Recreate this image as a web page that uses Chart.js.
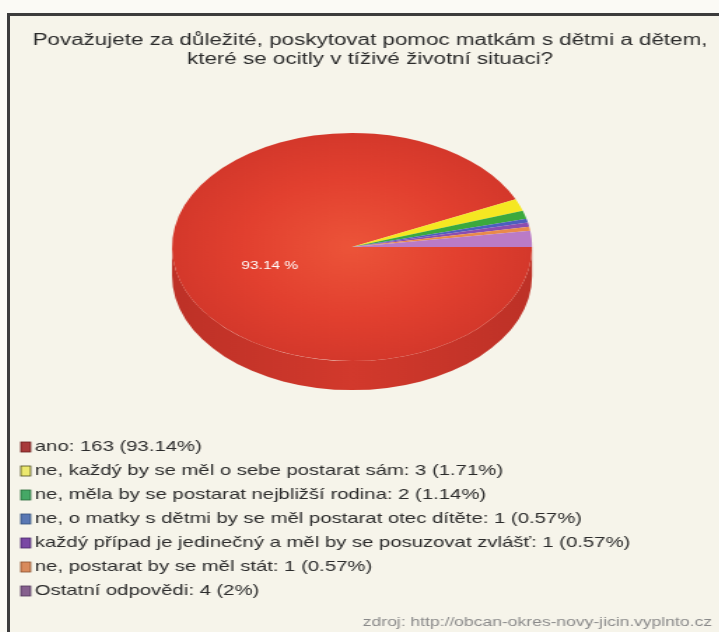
<!DOCTYPE html>
<html lang="cs">
<head>
<meta charset="UTF-8">
<title>Anketa</title>
<script src="https://cdn.jsdelivr.net/npm/chart.js"></script>
<style>
  html, body { margin: 0; padding: 0; width: 719px; height: 632px; overflow: hidden; background: #fbfaf5; }
  #ramecek { position: absolute; left: 7px; top: 13px; width: 800px; height: 700px;
             border-left: 3px solid #3c3c3c; border-top: 3px solid #3c3c3c; background: #f6f4ea; }
  /* graf je kreslen užší a roztažen do šířky */
  #obal { position: absolute; left: 11px; top: 16px; width: 508px; height: 616px;
          transform: scaleX(1.4); transform-origin: 0 0; }
</style>
</head>
<body>
<div id="ramecek"></div>
<div id="obal"><canvas id="graf" width="508" height="616"></canvas></div>

<script>
// data ankety
const nadpis = [
  'Považujete za důležité, poskytovat pomoc matkám s dětmi a dětem,',
  'které se ocitly v tíživé životní situaci?'
];
const odpovedi = [
  'ano',
  'ne, každý by se měl o sebe postarat sám',
  'ne, měla by se postarat nejbližší rodina',
  'ne, o matky s dětmi by se měl postarat otec dítěte',
  'každý případ je jedinečný a měl by se posuzovat zvlášť',
  'ne, postarat by se měl stát',
  'Ostatní odpovědi'
];
const pocty = [163, 3, 2, 1, 1, 1, 4];
const procenta = ['93.14%', '1.71%', '1.14%', '0.57%', '0.57%', '0.57%', '2%'];
const zdroj = 'zdroj: http://obcan-okres-novy-jicin.vyplnto.cz';

// barvy výsečí a čtverečků v legendě
const barvy = ['#e03b2d', '#f5e722', '#3ba93d', '#4c5fbe', '#8b4db0', '#e98a4b', '#ba7bc6'];
const barvyLegendy = ['#a83a3a', '#ece86e', '#45a866', '#5a78b4', '#7a48a4', '#d98a5c', '#86608e'];
const okrajeLegendy = ['#6a2020', '#4a4a20', '#2a6a3a', '#34507a', '#4a2a6a', '#8a5030', '#50385a'];

const SPLOSTENI = 0.887;   // naklonění koláče
const HLOUBKA = 29;        // výška boku koláče

const pismo = '"Liberation Sans", Arial, sans-serif';

function stredKolace(chart) {
  const a = chart.chartArea;
  return { x: (a.left + a.right) / 2, y: (a.top + a.bottom) / 2, r: Math.min(a.width, a.height) / 2 };
}

// bok koláče a zploštění horní plochy
const sklon = {
  id: 'sklon',
  beforeDatasetsDraw(chart) {
    const ctx = chart.ctx;
    const s = stredKolace(chart);
    ctx.save();
    ctx.translate(s.x, s.y);
    ctx.scale(1, SPLOSTENI);
    const d = HLOUBKA / SPLOSTENI;
    const g = ctx.createLinearGradient(-s.r, 0, s.r, 0);
    g.addColorStop(0, '#bd3127');
    g.addColorStop(0.5, '#d2392c');
    g.addColorStop(1, '#bd3127');
    ctx.beginPath();
    ctx.arc(0, d, s.r, 0, Math.PI);
    ctx.lineTo(-s.r, 0);
    ctx.arc(0, 0, s.r, Math.PI, 0, true);
    ctx.closePath();
    ctx.fillStyle = g;
    ctx.fill();
    ctx.restore();

    ctx.save();
    ctx.translate(s.x, s.y);
    ctx.scale(1, SPLOSTENI);
    ctx.translate(-s.x, -s.y);
  },
  afterDatasetsDraw(chart) {
    const ctx = chart.ctx;
    ctx.restore();
    // popisek největší výseče
    const s = stredKolace(chart);
    const el = chart.getDatasetMeta(0).data[0];
    const p = el.tooltipPosition();
    const podil = (pocty[0] / pocty.reduce((a, b) => a + b, 0) * 100).toFixed(2);
    ctx.save();
    ctx.font = '11px ' + pismo;
    ctx.fillStyle = '#ffffff';
    ctx.textAlign = 'center';
    ctx.textBaseline = 'middle';
    ctx.fillText(podil + ' %', p.x + 4, s.y + (p.y - s.y) * SPLOSTENI + 7);
    ctx.restore();
  }
};

// nadpis, legenda a zdroj
const texty = {
  id: 'texty',
  afterDraw(chart) {
    const ctx = chart.ctx;
    ctx.save();
    ctx.fillStyle = '#2b2b2b';
    ctx.font = '16px ' + pismo;
    ctx.textAlign = 'center';
    ctx.textBaseline = 'middle';
    ctx.fillText(nadpis[0], 256.4, 25);
    ctx.fillText(nadpis[1], 256.4, 44);

    ctx.font = '14.5px ' + pismo;
    ctx.textAlign = 'left';
    odpovedi.forEach((o, i) => {
      const y = 431 + i * 24;
      ctx.fillStyle = barvyLegendy[i];
      ctx.fillRect(7, y - 5, 7, 10);
      ctx.strokeStyle = okrajeLegendy[i];
      ctx.lineWidth = 0.8;
      ctx.strokeRect(7, y - 5, 7, 10);
      ctx.fillStyle = '#2b2b2b';
      ctx.fillText(o + ': ' + pocty[i] + ' (' + procenta[i] + ')', 17, y);
    });

    ctx.font = '12.5px ' + pismo;
    ctx.fillStyle = '#8a8a8a';
    ctx.textAlign = 'right';
    ctx.fillText(zdroj, 500.7, 607);
    ctx.restore();
  }
};

new Chart(document.getElementById('graf'), {
  type: 'pie',
  data: {
    labels: odpovedi,
    datasets: [{
      data: pocty,
      backgroundColor(c) {
        const i = c.dataIndex;
        if (i !== 0 || !c.chart.chartArea) return barvy[i];
        const s = stredKolace(c.chart);
        const g = c.chart.ctx.createRadialGradient(s.x, s.y, 0, s.x, s.y, s.r);
        g.addColorStop(0, '#ec5439');
        g.addColorStop(0.6, '#e2402f');
        g.addColorStop(1, '#d4382b');
        return g;
      },
      borderWidth: 0,
      hoverOffset: 0,
      offset: 0
    }]
  },
  options: {
    responsive: false,
    animation: false,
    events: [],
    rotation: 90,
    layout: { padding: { top: 102.4, bottom: 256.4, left: 115, right: 135.8 } },
    plugins: {
      legend: { display: false },
      tooltip: { enabled: false },
      title: { display: false }
    }
  },
  plugins: [sklon, texty]
});
</script>
</body>
</html>
